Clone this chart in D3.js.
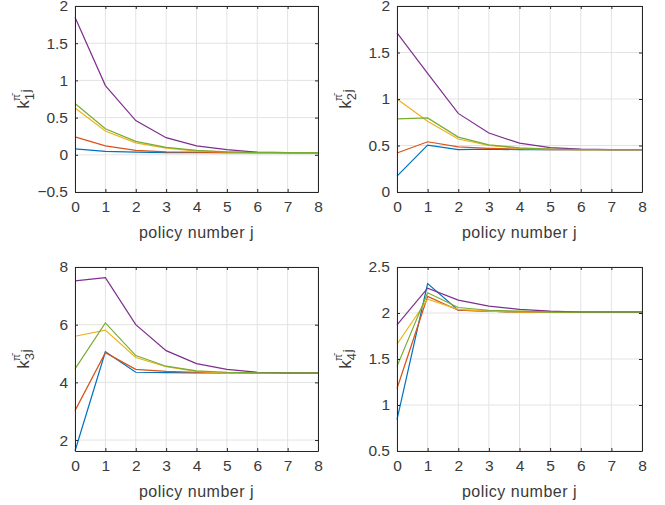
<!DOCTYPE html>
<html>
<head>
<meta charset="utf-8">
<script src="https://cdn.jsdelivr.net/npm/d3@7/dist/d3.min.js"></script>
<style>
  body { margin: 0; background: #fff; }
  svg { display: block; font-family: "Liberation Sans", Arial, sans-serif; }
</style>
</head>
<body>
<svg id="chart" width="665" height="505"></svg>
<script>
// policy iteration index
const policyNumbers = [0, 1, 2, 3, 4, 5, 6, 7, 8]

// series order: blue, orange, yellow, purple, green
const lineColors = ['#0072BD', '#D95319', '#EDB120', '#7E2F8E', '#77AC30']

const k1Values = [
    [0.08, 0.045, 0.035, 0.03, 0.03, 0.03, 0.03, 0.03, 0.03],
    [0.24, 0.12, 0.06, 0.04, 0.035, 0.03, 0.03, 0.03, 0.03],
    [0.63, 0.32, 0.16, 0.09, 0.05, 0.04, 0.03, 0.03, 0.03],
    [1.85, 0.93, 0.46, 0.23, 0.12, 0.07, 0.035, 0.03, 0.03],
    [0.69, 0.35, 0.18, 0.10, 0.06, 0.04, 0.03, 0.03, 0.03]
]
const k2Values = [
    [0.17, 0.505, 0.455, 0.46, 0.455, 0.455, 0.455, 0.455, 0.455],
    [0.42, 0.54, 0.485, 0.47, 0.46, 0.455, 0.455, 0.455, 0.455],
    [1.0, 0.76, 0.57, 0.50, 0.47, 0.46, 0.455, 0.455, 0.455],
    [1.71, 1.275, 0.845, 0.634, 0.525, 0.478, 0.46, 0.455, 0.455],
    [0.786, 0.797, 0.59, 0.507, 0.475, 0.46, 0.455, 0.455, 0.455]
]
const k3Values = [
    [1.62, 5.06, 4.35, 4.34, 4.33, 4.33, 4.33, 4.33, 4.33],
    [3.02, 5.03, 4.45, 4.38, 4.35, 4.33, 4.33, 4.33, 4.33],
    [5.6, 5.81, 4.86, 4.54, 4.38, 4.32, 4.33, 4.33, 4.33],
    [7.52, 7.63, 6.0, 5.1, 4.65, 4.45, 4.35, 4.33, 4.33],
    [4.47, 6.06, 4.93, 4.56, 4.4, 4.35, 4.33, 4.33, 4.33]
]
const k4Values = [
    [0.84, 2.32, 2.03, 2.02, 2.01, 2.01, 2.01, 2.01, 2.01],
    [1.18, 2.18, 2.03, 2.02, 2.01, 2.01, 2.01, 2.01, 2.01],
    [1.66, 2.15, 2.04, 2.02, 2.01, 2.01, 2.01, 2.01, 2.01],
    [1.87, 2.27, 2.14, 2.075, 2.04, 2.02, 2.01, 2.01, 2.01],
    [1.42, 2.22, 2.06, 2.03, 2.02, 2.01, 2.01, 2.01, 2.01]
]

const xTicks = [0, 1, 2, 3, 4, 5, 6, 7, 8]
const k1Ticks = [-0.5, 0, 0.5, 1, 1.5, 2]
const k2Ticks = [0, 0.5, 1, 1.5, 2]
const k3Ticks = [2, 4, 6, 8]
const k4Ticks = [0.5, 1, 1.5, 2, 2.5]

const axisColor = '#262626'
const textColor = '#3a3a3a'
const gridColor = '#e3e3e3'

const panels = [
    {values: k1Values, ticks: k1Ticks, yDomain: [-0.5, 2], sub: '1', left: 75, right: 318, top: 6, bottom: 192},
    {values: k2Values, ticks: k2Ticks, yDomain: [0, 2], sub: '2', left: 397, right: 642, top: 6, bottom: 192},
    {values: k3Values, ticks: k3Ticks, yDomain: [1.62, 8], sub: '3', left: 75, right: 318, top: 267, bottom: 451},
    {values: k4Values, ticks: k4Ticks, yDomain: [0.5, 2.5], sub: '4', left: 397, right: 642, top: 267, bottom: 451}
]

const svg = d3.select('#chart')

function drawPanel(p){

    const x = d3.scaleLinear().domain([0, 8]).range([p.left, p.right])
    const y = d3.scaleLinear().domain(p.yDomain).range([p.bottom, p.top])

    const g = svg.append('g')

    // grid
    g.selectAll('.vgrid').data(xTicks).enter().append('line')
        .attr('x1', d=>x(d)).attr('x2', d=>x(d))
        .attr('y1', p.top).attr('y2', p.bottom)
        .attr('stroke', gridColor).attr('stroke-width', 1)
    g.selectAll('.hgrid').data(p.ticks).enter().append('line')
        .attr('x1', p.left).attr('x2', p.right)
        .attr('y1', d=>y(d)).attr('y2', d=>y(d))
        .attr('stroke', gridColor).attr('stroke-width', 1)

    // series
    const line = d3.line().x((d, i)=>x(policyNumbers[i])).y(d=>y(d))
    p.values.forEach(function(vals, i){
        g.append('path')
            .attr('d', line(vals))
            .attr('fill', 'none')
            .attr('stroke', lineColors[i])
            .attr('stroke-width', 1.2)
    })

    // axes (inward ticks, MATLAB-ish)
    const xAxis = d3.axisBottom(x).tickValues(xTicks).tickSizeInner(-3).tickSizeOuter(0).tickPadding(9)
    const yAxis = d3.axisLeft(y).tickValues(p.ticks).tickSizeInner(-3).tickSizeOuter(0).tickPadding(7)
        .tickFormat(d3.format('~g'))

    const gx = g.append('g').attr('transform', 'translate(0,' + p.bottom + ')').call(xAxis)
    const gy = g.append('g').attr('transform', 'translate(' + p.left + ',0)').call(yAxis)
    const gxTop = g.append('g').attr('transform', 'translate(0,' + p.top + ')')
        .call(d3.axisTop(x).tickValues(xTicks).tickSizeInner(-3).tickSizeOuter(0).tickFormat(''))
    const gyRight = g.append('g').attr('transform', 'translate(' + p.right + ',0)')
        .call(d3.axisRight(y).tickValues(p.ticks).tickSizeInner(-3).tickSizeOuter(0).tickFormat(''))

    ;[gx, gy, gxTop, gyRight].forEach(function(a){
        a.select('.domain').attr('stroke', axisColor)
        a.selectAll('.tick line').attr('stroke', axisColor)
        a.selectAll('.tick text')
            .attr('fill', textColor)
            .style('font-size', '15.5px')
            .style('font-family', '"Liberation Sans", Arial, sans-serif')
    })

    // x label
    g.append('text')
        .attr('x', (p.left + p.right) / 2)
        .attr('y', p.bottom + 46)
        .attr('text-anchor', 'middle')
        .attr('fill', textColor)
        .style('font-size', '16px')
        .style('letter-spacing', '0.5px')
        .text('policy number j')

    // y label: k with sub index, superscript pi-bar, then j
    const cx = p.left - 46
    const cy = (p.top + p.bottom) / 2
    const lab = g.append('text')
        .attr('transform', 'translate(' + cx + ',' + cy + ') rotate(-90)')
        .attr('text-anchor', 'middle')
        .attr('fill', textColor)
        .style('font-size', '17px')
    lab.append('tspan').text('k')
    lab.append('tspan').attr('dy', 5).style('font-size', '13px').text(p.sub)
    lab.append('tspan').attr('dx', -8).attr('dy', -14).style('font-size', '10px').text('\u03C0\u0304')
    lab.append('tspan').attr('dx', 2).attr('dy', 10).style('font-size', '13px').text('j')
}

panels.forEach(drawPanel)
</script>
</body>
</html>
